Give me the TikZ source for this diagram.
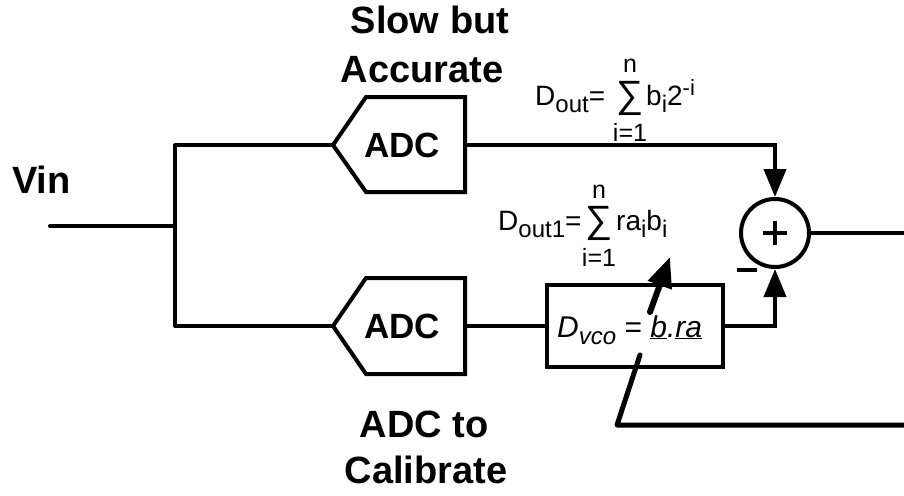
\documentclass[tikz,border=0pt]{standalone}
\usepackage{fontspec}
\setmainfont{Liberation Sans}
\usetikzlibrary{arrows.meta}
\newcommand\lsub[1]{\raisebox{-7pt}{\fontsize{24}{24}\selectfont #1}}
\newcommand\lsup[1]{\raisebox{10pt}{\fontsize{22}{22}\selectfont #1}}
\begin{document}
\begin{tikzpicture}[x=1pt,y=-1pt,
  wire/.style={line width=4pt},
  blk/.style={line width=4pt, line join=miter},
  adcl/.style={font=\fontsize{35}{40}\selectfont\bfseries, inner sep=0pt},
  big/.style={font=\fontsize{38}{42}\selectfont\bfseries, inner sep=0pt},
  frm/.style={font=\fontsize{28}{30}\selectfont, inner sep=0pt},
  sig/.style={font=\fontsize{38}{38}\selectfont, inner sep=0pt},
  sml/.style={font=\fontsize{25}{26}\selectfont, inner sep=0pt},
  tip/.style={-{Triangle[length=28pt,width=22pt]}}]
\useasboundingbox (0,0) rectangle (904,495);
% input
\coordinate (vs) at (50,226);
\coordinate (vj) at (175,226);
\coordinate (vt) at (175,145);
\coordinate (vb) at (175,326);
% ADC 1
\coordinate (a1in) at (333,145);
\coordinate (a1out) at (465,145);
\draw[blk] (333,145) -- (366,97) -- (465,97) -- (465,192) -- (366,192) -- cycle;
\node[adcl] (adc1) at (402,145) {ADC};
% ADC 2
\coordinate (a2in) at (333,326);
\coordinate (a2out) at (465,326);
\draw[blk] (333,326) -- (366,278) -- (465,278) -- (465,374) -- (366,374) -- cycle;
\node[adcl] (adc2) at (402,326) {ADC};
% wires
\draw[wire, line cap=round] (vs) -- (vj);
\draw[wire, line cap=round, line join=round] (a1in) -- (vt) -- (vb) -- (a2in);
% box
\node[draw, line width=4pt, minimum width=176pt, minimum height=82pt, inner sep=0pt] (box) at (635,326) {};
\node[font=\fontsize{30}{34}\selectfont\itshape, inner sep=0pt, anchor=base west] (boxtxt) at (557,337) {D\lsub{vco} \upshape=\itshape{} \underline{b}.\underline{ra}};
\draw[wire] (a2out) -- (box.west);
% sum
\node[draw, circle, line width=4pt, minimum size=68pt, inner sep=0pt] (sum) at (775,233) {};
\draw[line width=4pt] ([xshift=-12pt]sum.center) -- ([xshift=12pt]sum.center);
\draw[line width=4pt] ([yshift=-12pt]sum.center) -- ([yshift=12pt]sum.center);
\coordinate (m1) at (737,270);
\coordinate (m2) at (757,270);
\draw[line width=4pt] (m1) -- (m2);
\coordinate (t1) at (775,145);
\draw[wire, tip, line join=miter] (a1out) -- (t1) -- (sum.north);
\coordinate (b1) at (775,326);
\draw[wire, tip, line join=miter] (box.east) -- (b1) -- (sum.south);
\coordinate (out) at (904,233);
\draw[wire] (sum.east) -- (out);
% feedback
\coordinate (f0) at (904,425);
\coordinate (f1) at (617,425);
\coordinate (f2) at (640,355);
\draw[line width=5pt, line join=round, line cap=round] (f0) -- (f1) -- (f2);
% calibration arrow
\coordinate (c0) at (650,312);
\coordinate (c1) at (670,257);
\draw[line width=6pt, line cap=round, -{Triangle[length=30pt,width=24pt]}] (c0) -- (c1);
% formulas
\node[frm, anchor=base west] (d1) at (535,105) {D\lsub{out}=};
\node[sig] (s1) at (630,98) {∑};
\node[sml, anchor=base] (n1) at (630,73) {n};
\node[sml, anchor=base] (i1) at (630,141) {i=1};
\node[frm, anchor=base west] (e1) at (646,105) {b\lsub{i}2\lsup{-i}};
\node[frm, anchor=base west] (d2) at (498,230) {D\lsub{out1}=};
\node[sig] (s2) at (599,223) {∑};
\node[sml, anchor=base] (n2) at (599,198) {n};
\node[sml, anchor=base] (i2) at (599,266) {i=1};
\node[frm, anchor=base west] (e2) at (616,230) {ra\lsub{i}b\lsub{i}};
% labels
\node[big, anchor=base] (l1) at (430,34) {Slow but};
\node[big, anchor=base] (l2) at (422,82) {Accurate};
\node[big, anchor=base] (l3) at (424,437) {ADC to};
\node[big, anchor=base] (l4) at (426,483) {Calibrate};
\node[big, anchor=base west] (vin) at (12,193) {Vin};
\end{tikzpicture}
\end{document}
